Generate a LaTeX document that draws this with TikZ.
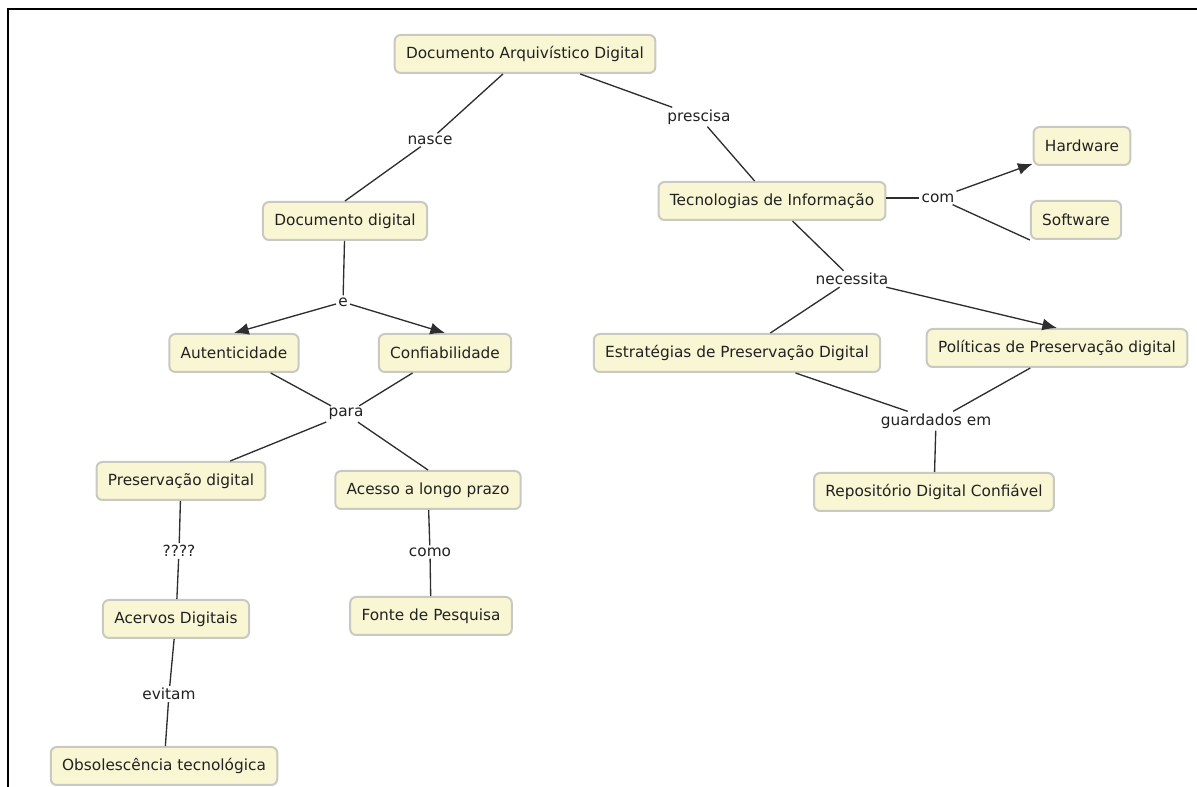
\documentclass[tikz,border=0pt]{standalone}
\usepackage{fontspec}
\setmainfont{DejaVu Sans}
\usetikzlibrary{arrows.meta}
\definecolor{creme}{HTML}{F8F6D3}
\definecolor{borda}{HTML}{C9C9C1}
\definecolor{linha}{HTML}{2E2E2E}
\definecolor{texto}{HTML}{222222}

\begin{document}
\begin{tikzpicture}[x=0.75pt,y=-0.75pt,
		conceito/.style={draw=borda,fill=creme,line width=1.5pt,rounded corners=4.5pt,minimum height=28.5pt,inner xsep=8.5pt,text=texto,font=\fontsize{11.5}{13}\selectfont},
		frase/.style={fill=white,inner sep=1.5pt,text=texto,font=\fontsize{11.5}{13}\selectfont},
		liga/.style={draw=linha,line width=1pt},
		seta/.style={liga,-{Latex[length=11pt,width=9pt]}}]
		\useasboundingbox (0,0) rectangle (1197,787);
		\draw[line width=1.5pt] (8,787) -- (8,9) -- (1197,9);

		\node[conceito] (dad) at (525,54) {Documento Arquivístico Digital};
		\node[conceito] (docdig) at (345,221) {Documento digital};
		\node[conceito] (tec) at (772,201) {Tecnologias de Informação};
		\node[conceito] (hw) at (1082,146) {Hardware};
		\node[conceito] (sw) at (1076,220) {Software};
		\node[conceito] (aut) at (234,353) {Autenticidade};
		\node[conceito] (conf) at (445,353) {Confiabilidade};
		\node[conceito] (estr) at (737,353) {Estratégias de Preservação Digital};
		\node[conceito] (pol) at (1057,348) {Políticas de Preservação digital};
		\node[conceito] (presdig) at (181,481) {Preservação digital};
		\node[conceito] (acesso) at (428,490) {Acesso a longo prazo};
		\node[conceito] (repo) at (934,492) {Repositório Digital Confiável};
		\node[conceito] (acervos) at (176,619) {Acervos Digitais};
		\node[conceito] (fonte) at (431,616) {Fonte de Pesquisa};
		\node[conceito] (obsol) at (164,766) {Obsolescência tecnológica};

		\node[frase] (nasce) at (430,140) {nasce};
		\node[frase] (prescisa) at (699,117) {prescisa};
		\node[frase] (com) at (938,198) {com};
		\node[frase] (e) at (343,302) {e};
		\node[frase] (necessita) at (852,279) {necessita};
		\node[frase] (para) at (346,414) {para};
		\node[frase] (guardados) at (936,421) {guardados em};
		\node[frase] (q) at (179,551) {????};
		\node[frase] (como) at (430,552) {como};
		\node[frase] (evitam) at (169,694) {evitam};

		\draw[liga] (dad) -- (nasce);
		\draw[liga] (nasce) -- (docdig.north);
		\draw[liga] (dad) -- (prescisa);
		\draw[liga] (prescisa) -- (tec);
		\draw[liga] (tec.east |- com) -- (com);
		\draw[seta] (com) -- (hw);
		\draw[liga] (com) -- (sw.south west);
		\draw[liga] (docdig) -- (e);
		\draw[seta] (e) -- (aut.north);
		\draw[seta] (e) -- (conf.north);
		\draw[liga] (tec) -- (necessita);
		\draw[liga] (necessita) -- ([xshift=25pt]estr.north);
		\draw[seta] (necessita) -- (pol.north);
		\draw[liga] (aut) -- (para);
		\draw[liga] (conf) -- (para);
		\draw[liga] (para) -- (presdig);
		\draw[liga] (para) -- (acesso.north);
		\draw[liga] (estr) -- (guardados);
		\draw[liga] ([xshift=-20pt]pol.south) -- (guardados);
		\draw[liga] (guardados) -- (repo);
		\draw[liga] (presdig) -- (q);
		\draw[liga] (q) -- (acervos);
		\draw[liga] (acervos) -- (evitam);
		\draw[liga] (evitam) -- (obsol);
		\draw[liga] (acesso) -- (como);
		\draw[liga] (como) -- (fonte);
	\end{tikzpicture}
\end{document}
